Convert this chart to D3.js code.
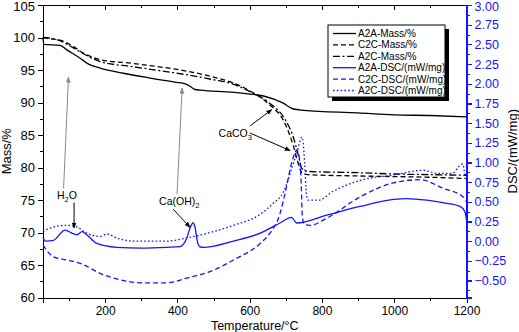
<!DOCTYPE html>
<html lang="en">
<head>
<meta charset="utf-8">
<title>TG-DSC</title>
<script src="https://d3js.org/d3.v7.min.js"></script>
<style>
	body { margin: 0; background: #fff; }
	svg text { font-family: "Liberation Sans", Arial, sans-serif; }
	.axis path, .axis line { fill: none; shape-rendering: crispEdges; }
</style>
</head>
<body>
<script>
// ---- data ----
var tA2AMass = [28, 30, 75, 94, 131, 154, 186, 250, 320, 398, 420, 435, 449, 463, 550, 601, 638, 693, 721, 750, 900, 1000, 1100, 1200];
var massA2A  = [100, 98.95, 98.8, 98.1, 96.8, 95.9, 95.3, 94.5, 93.8, 93.1, 92.9, 92.5, 92.0, 91.9, 91.6, 91.3, 91.0, 89.9, 89.0, 88.8, 88.4, 88.1, 88.0, 87.8];

var tC2CMass = [28, 48, 75, 112, 140, 186, 278, 463, 500, 550, 600, 650, 700, 720, 735, 745, 760, 900, 1000, 1100, 1200];
var massC2C  = [100, 99.8, 99.6, 98.6, 97.6, 96.6, 96.0, 94.4, 93.9, 93.1, 91.8, 89.9, 86.5, 83.5, 80.5, 79.1, 78.9, 78.7, 78.6, 78.5, 78.3];

var tA2CMass = [28, 48, 75, 112, 140, 186, 278, 463, 500, 550, 600, 650, 700, 720, 735, 745, 760, 900, 1000, 1100, 1200];
var massA2C  = [100, 99.9, 99.5, 98.4, 97.5, 96.3, 95.5, 93.9, 93.5, 92.9, 91.7, 90.1, 87.2, 84.8, 81.8, 79.8, 79.4, 79.2, 79.0, 78.9, 78.8];

var tA2ADsc = [28, 35, 57, 89, 108, 122, 136, 149, 177, 232, 300, 371, 407, 426, 436, 443, 449, 455, 462, 472, 555, 629, 684, 716, 730, 813, 905, 998, 1034, 1090, 1145, 1182, 1195, 1200];
var dscA2A  = [0.05, 0.0, 0.01, 0.14, 0.10, 0.08, 0.12, 0.08, -0.03, -0.08, -0.09, -0.08, -0.07, 0.04, 0.18, 0.23, 0.17, 0.0, -0.07, -0.08, 0.0, 0.10, 0.23, 0.30, 0.23, 0.33, 0.44, 0.53, 0.54, 0.52, 0.48, 0.44, 0.38, 0.27];

var tC2CDsc = [28, 57, 94, 140, 186, 232, 297, 371, 426, 500, 555, 629, 656, 684, 700, 716, 726, 730, 736, 742, 746, 752, 767, 813, 905, 998, 1071, 1136, 1191, 1200];
var dscC2C  = [-0.05, -0.20, -0.24, -0.30, -0.41, -0.48, -0.53, -0.53, -0.47, -0.37, -0.24, -0.03, 0.10, 0.35, 0.65, 0.99, 1.13, 1.16, 1.10, 0.80, 0.30, 0.21, 0.20, 0.29, 0.56, 0.74, 0.78, 0.67, 0.56, 0.50];

var tA2CDsc = [28, 57, 94, 122, 149, 186, 205, 232, 278, 371, 426, 500, 555, 629, 665, 693, 716, 732, 740, 744, 748, 752, 757, 762, 790, 830, 905, 998, 1080, 1120, 1160, 1180, 1190, 1195, 1200];
var dscA2C  = [0.12, 0.18, 0.20, 0.18, 0.10, 0.06, 0.09, 0.04, 0.0, 0.0, 0.04, 0.12, 0.20, 0.34, 0.48, 0.62, 0.92, 1.15, 1.28, 1.32, 1.25, 1.0, 0.6, 0.52, 0.52, 0.63, 0.77, 0.84, 0.90, 0.86, 0.86, 0.95, 0.98, 0.86, 0.82];

var xTicks = [200, 400, 600, 800, 1000, 1200];
var massTicks = [60, 65, 70, 75, 80, 85, 90, 95, 100, 105];
var dscTicks = [-0.5, -0.25, 0, 0.25, 0.5, 0.75, 1, 1.25, 1.5, 1.75, 2, 2.25, 2.5, 2.75, 3];

var legendNames = ["A2A-Mass/%", "C2C-Mass/%", "A2C-Mass/%", "A2A-DSC/(mW/mg)", "C2C-DSC/(mW/mg)", "A2C-DSC/(mW/mg)"];

// ---- layout ----
var margin = {top: 5, right: 52.5, bottom: 34.5, left: 43};
var outer_width = 519, outer_height = 332;
var w = outer_width - margin.left - margin.right;
var h = outer_height - margin.top - margin.bottom;
var blue = "#1414ff";

var svg = d3.select("body").append("svg")
	.attr("width", outer_width).attr("height", outer_height);
var g = svg.append("g").attr("transform", "translate(" + margin.left + "," + margin.top + ")");

var xScale = d3.scaleLinear().domain([28, 1200]).range([0, w]);
var yMass = d3.scaleLinear().domain([60, 105]).range([h, 0]);
var yDsc = d3.scaleLinear().domain([-0.717, 3.0]).range([h, 0]);

// series descriptions
var series = [
	{t: tA2AMass, v: massA2A, y: yMass, color: "#000", dash: null},
	{t: tC2CMass, v: massC2C, y: yMass, color: "#000", dash: "5,3"},
	{t: tA2CMass, v: massA2C, y: yMass, color: "#000", dash: "7,2.5,2,2.5"},
	{t: tA2ADsc, v: dscA2A, y: yDsc, color: blue, dash: null},
	{t: tC2CDsc, v: dscC2C, y: yDsc, color: blue, dash: "5,3"},
	{t: tA2CDsc, v: dscA2C, y: yDsc, color: blue, dash: "1.6,2.2"}
];

// ---- axes ----
function range(a, b, s) { var r = []; for (var v = a; v <= b + 1e-9; v += s) r.push(+v.toFixed(4)); return r; }

// bottom
g.append("g").attr("class", "axis").attr("transform", "translate(0," + h + ")")
	.call(d3.axisBottom(xScale).tickValues(range(100, 1200, 100)).tickSize(3).tickFormat(""));
g.append("g").attr("class", "axis").attr("transform", "translate(0," + h + ")")
	.call(d3.axisBottom(xScale).tickValues(xTicks).tickSize(5).tickPadding(4).tickFormat(d3.format("d")))
	.call(function(s) { s.selectAll("text").attr("font-size", 12).attr("fill", "#000"); });
// top
g.append("g").attr("class", "axis")
	.call(d3.axisBottom(xScale).tickValues(range(100, 1200, 100)).tickSize(3).tickFormat(""));
g.append("g").attr("class", "axis")
	.call(d3.axisBottom(xScale).tickValues(xTicks).tickSize(5).tickFormat(""));
// left
g.append("g").attr("class", "axis")
	.call(d3.axisLeft(yMass).tickValues(range(60, 105, 2.5)).tickSize(3).tickFormat(""));
g.append("g").attr("class", "axis")
	.call(d3.axisLeft(yMass).tickValues(massTicks).tickSize(5).tickPadding(3).tickFormat(d3.format("d")))
	.call(function(s) {
		s.selectAll("text").attr("font-size", 13).attr("fill", "#000");
		s.selectAll(".tick").filter(function(d) { return d === 105; }).select("text").attr("dy", "0.45em");
	});
// right (blue)
g.append("g").attr("class", "axis").attr("transform", "translate(" + w + ",0)")
	.call(d3.axisRight(yDsc).tickValues(range(-0.625, 3, 0.125)).tickSize(3).tickFormat(""))
	.call(function(s) { s.selectAll("path,line").attr("stroke", blue); });
g.append("g").attr("class", "axis").attr("transform", "translate(" + w + ",0)")
	.call(d3.axisRight(yDsc).tickValues(dscTicks).tickSize(5).tickPadding(3).tickFormat(d3.format(".2f")))
	.call(function(s) {
		s.selectAll("path,line").attr("stroke", blue).attr("stroke-width", 1.3);
		s.selectAll("text").attr("font-size", 12.5).attr("fill", blue);
		s.selectAll(".tick").filter(function(d) { return d === 3; }).select("text").attr("dy", "0.45em");
	});

// ---- lines ----
series.forEach(function(s) {
	var pts = s.t.map(function(t, i) { return [t, s.v[i]]; });
	var line = d3.line()
		.x(function(d) { return xScale(d[0]); })
		.y(function(d) { return s.y(d[1]); })
		.curve(d3.curveMonotoneX);
	g.append("path").datum(pts)
		.attr("d", line)
		.attr("fill", "none")
		.attr("stroke", s.color)
		.attr("stroke-width", 1.3)
		.attr("stroke-dasharray", s.dash);
});

// ---- annotations ----
var defs = svg.append("defs");
function marker(id, color) {
	defs.append("marker").attr("id", id)
		.attr("viewBox", "0 0 10 10").attr("refX", 9).attr("refY", 5)
		.attr("markerWidth", 6).attr("markerHeight", 6).attr("orient", "auto")
		.append("path").attr("d", "M0,1 L10,5 L0,9 z").attr("fill", color);
}
marker("arrB", "#000");
marker("arrG", "#888");

function arrow(t1, m1, t2, m2, color, id) {
	g.append("line")
		.attr("x1", xScale(t1)).attr("y1", yMass(m1))
		.attr("x2", xScale(t2)).attr("y2", yMass(m2))
		.attr("stroke", color).attr("stroke-width", 1)
		.attr("marker-end", "url(#" + id + ")");
}
function label(t, m, parts) {
	var txt = g.append("text").attr("x", xScale(t)).attr("y", yMass(m))
		.attr("text-anchor", "middle").attr("font-size", 10.5).attr("fill", "#000");
	parts.forEach(function(p) {
		if (p.sub) txt.append("tspan").attr("dy", 3).attr("font-size", 7.5).text(p.sub);
		else txt.append("tspan").attr("dy", p.up ? -3 : 0).text(p.s);
	});
}

// H2O
arrow(85, 76.8, 98.5, 93.9, "#888", "arrG");
label(94, 75.1, [{s: "H"}, {sub: "2"}, {s: "O", up: true}]);
arrow(114, 74.6, 114, 70.7, "#000", "arrB");
// Ca(OH)2
arrow(399, 75.9, 413, 92.2, "#888", "arrG");
label(405, 74.2, [{s: "Ca(OH)"}, {sub: "2"}]);
arrow(388, 73.6, 435, 70.8, "#000", "arrB");
// CaCO3
label(560, 84.7, [{s: "CaCO"}, {sub: "3"}]);
arrow(601, 86.4, 661, 88.9, "#000", "arrB");
arrow(601, 85.3, 712, 82.6, "#000", "arrB");

// ---- axis titles ----
svg.append("text").attr("transform", "translate(11," + (margin.top + h / 2) + ") rotate(-90)")
	.attr("text-anchor", "middle").attr("font-size", 13).text("Mass/%");
svg.append("text").attr("transform", "translate(517," + (margin.top + h / 2) + ") rotate(-90)")
	.attr("text-anchor", "middle").attr("font-size", 13).text("DSC/(mW/mg)");
svg.append("text").attr("x", margin.left + w / 2).attr("y", 330)
	.attr("text-anchor", "middle").attr("font-size", 12.5).text("Temperature/°C");

// ---- legend ----
var lg = svg.append("g").attr("transform", "translate(328,25)");
lg.append("rect").attr("x", 4).attr("y", 4).attr("width", 117).attr("height", 72).attr("fill", "#000");
lg.append("rect").attr("width", 117).attr("height", 72).attr("fill", "#fff").attr("stroke", "#000").attr("stroke-width", 1);
legendNames.forEach(function(name, i) {
	var yy = 8.5 + i * 11.4;
	lg.append("line").attr("x1", 5).attr("x2", 28).attr("y1", yy).attr("y2", yy)
		.attr("stroke", series[i].color).attr("stroke-width", 1.3)
		.attr("stroke-dasharray", series[i].dash);
	lg.append("text").attr("x", 30).attr("y", yy + 3.5).attr("font-size", 10).text(name);
});
</script>
</body>
</html>
